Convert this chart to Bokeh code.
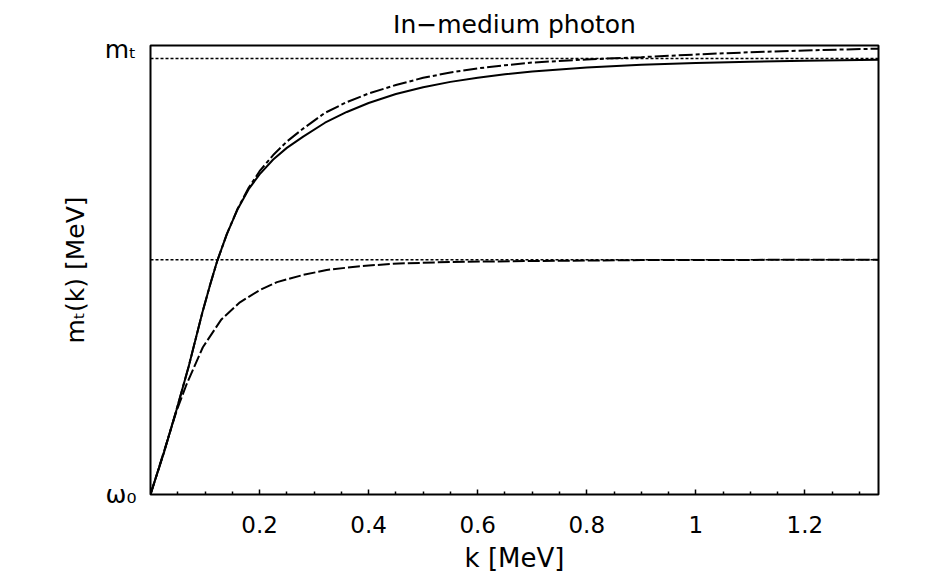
# in-medium photon: transverse mass m_t(k) against k

from bokeh.plotting import figure
from bokeh.models import Range1d, FixedTicker
from bokeh.embed import file_html
from bokeh.resources import INLINE

# ---- data (y: 0 = omega_0, 1 = top of frame)
k_solid = [0, 0.025, 0.048, 0.07, 0.095, 0.11, 0.1226, 0.14, 0.16, 0.18, 0.20,
           0.225, 0.25, 0.28, 0.32, 0.36, 0.40, 0.45, 0.50, 0.55, 0.60, 0.65,
           0.70, 0.80, 0.90, 1.0, 1.1, 1.2, 1.335]
m_solid = [0, 0.095, 0.19, 0.285, 0.405, 0.47, 0.521, 0.58, 0.636, 0.680, 0.713,
           0.746, 0.772, 0.797, 0.828, 0.852, 0.872, 0.892, 0.907, 0.919, 0.928, 0.936,
           0.942, 0.951, 0.957, 0.961, 0.964, 0.966, 0.968]

k_dashdot = [0, 0.025, 0.048, 0.07, 0.095, 0.11, 0.1226, 0.14, 0.16, 0.18, 0.20,
             0.225, 0.25, 0.28, 0.32, 0.36, 0.40, 0.45, 0.50, 0.55, 0.60, 0.65,
             0.70, 0.80, 0.90, 1.0, 1.1, 1.2, 1.335]
m_dashdot = [0, 0.095, 0.19, 0.285, 0.405, 0.47, 0.521, 0.58, 0.637, 0.683, 0.720,
             0.756, 0.786, 0.815, 0.850, 0.874, 0.893, 0.912, 0.928, 0.940, 0.949, 0.956,
             0.962, 0.969, 0.974, 0.980, 0.985, 0.989, 0.993]

k_dashed = [0, 0.025, 0.048, 0.066, 0.096, 0.13, 0.164, 0.2, 0.232, 0.28,
            0.323, 0.38, 0.445, 0.55, 0.7, 0.9, 1.1, 1.335]
m_dashed = [0, 0.097, 0.187, 0.245, 0.328, 0.39, 0.428, 0.455, 0.473, 0.489,
            0.500, 0.508, 0.514, 0.518, 0.520, 0.522, 0.5225, 0.523]

asym_hi = 0.971   # upper dotted line
asym_lo = 0.523   # lower dotted line

k_min, k_max = 0, 1.335
x_ticks = [0.2, 0.4, 0.6, 0.8, 1.0, 1.2]
x_labels = ["0.2", "0.4", "0.6", "0.8", "1", "1.2"]
x_minor = [0.05, 0.1, 0.15, 0.25, 0.3, 0.35, 0.45, 0.5, 0.55, 0.65, 0.7, 0.75,
           0.85, 0.9, 0.95, 1.05, 1.1, 1.15, 1.25, 1.3]
y_ticks = [0, 0.99]
y_labels = ["\u03c9\u2080", "m\u209c"]

FONT = "DejaVu Sans"

p = figure(width=933, height=579, output_backend="svg", toolbar_location=None,
           x_range=Range1d(k_min, k_max), y_range=Range1d(0, 1.0),
           min_border_left=150, min_border_right=55,
           min_border_top=45, min_border_bottom=85,
           title="In\u2212medium photon")
p.grid.visible = False
p.outline_line_color = "black"
p.outline_line_width = 2
p.outline_line_alpha = 1.0

p.title.align = "center"
p.title.text_font = FONT
p.title.text_font_size = "25px"
p.title.text_font_style = "normal"
p.title.text_color = "black"
p.title.standoff = 14

ax = p.xaxis[0]
ax.ticker = FixedTicker(ticks=x_ticks, minor_ticks=x_minor)
ax.major_label_overrides = dict(zip(x_ticks, x_labels))
ax.axis_line_color = None
ax.major_tick_in = 5
ax.major_tick_out = 0
ax.minor_tick_in = 3
ax.minor_tick_out = 0
ax.major_tick_line_color = "black"
ax.minor_tick_line_color = "black"
ax.major_tick_line_width = 1.5
ax.minor_tick_line_width = 1.5
ax.major_label_text_font = FONT
ax.major_label_text_font_size = "23px"
ax.major_label_text_color = "black"
ax.major_label_standoff = 21
ax.axis_label = "k [MeV]"
ax.axis_label_text_font = FONT
ax.axis_label_text_font_size = "26px"
ax.axis_label_text_font_style = "normal"
ax.axis_label_text_color = "black"
ax.axis_label_standoff = 7

ay = p.yaxis[0]
ay.ticker = FixedTicker(ticks=y_ticks)
ay.major_label_overrides = dict(zip(y_ticks, y_labels))
ay.axis_line_color = None
ay.major_tick_in = 0
ay.major_tick_out = 0
ay.minor_tick_line_color = None
ay.major_label_text_font = FONT
ay.major_label_text_font_size = "25px"
ay.major_label_text_color = "black"
ay.major_label_standoff = 14
ay.axis_label = "m\u209c(k) [MeV]"
ay.axis_label_text_font = FONT
ay.axis_label_text_font_size = "25px"
ay.axis_label_text_font_style = "normal"
ay.axis_label_text_color = "black"
ay.axis_label_standoff = 12

# curves
p.line(k_solid, m_solid, line_color="black", line_width=2)
p.line(k_dashdot, m_dashdot, line_color="black", line_width=2, line_dash="14 3 4 3")
p.line(k_dashed, m_dashed, line_color="black", line_width=2, line_dash="12 3")
p.line([k_min, k_max], [asym_hi, asym_hi], line_color="black", line_width=1.5, line_dash="3 2")
p.line([k_min, k_max], [asym_lo, asym_lo], line_color="black", line_width=1.5, line_dash="3 2")

open("out.html", "w").write(file_html(p, INLINE))
